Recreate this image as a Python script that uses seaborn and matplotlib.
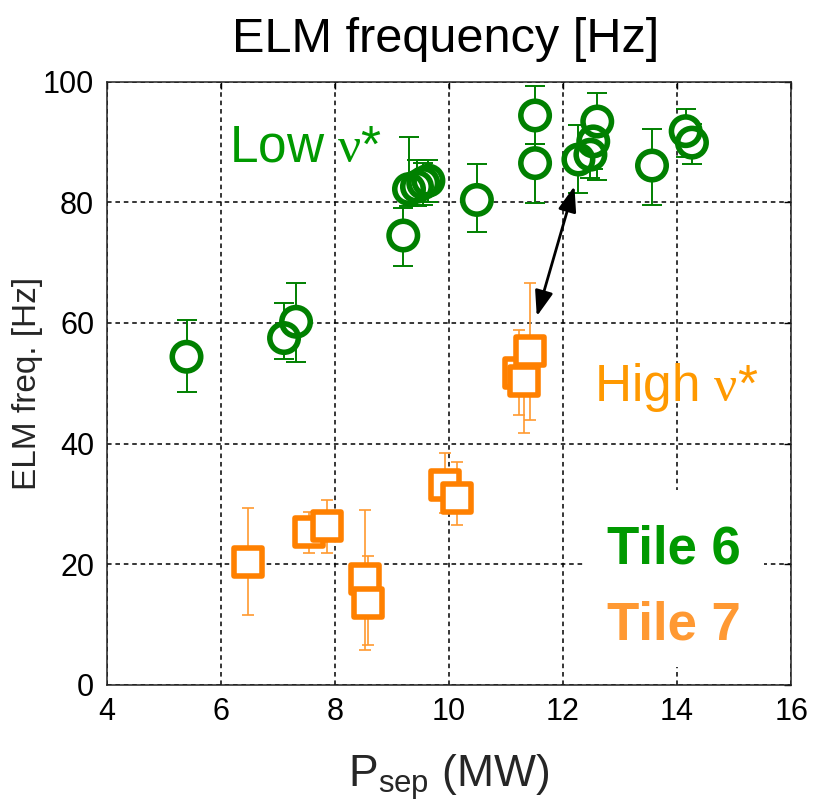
import matplotlib
matplotlib.use("Agg")
import matplotlib.pyplot as plt
import seaborn as sns
import pandas as pd
from matplotlib.patches import Rectangle

# ---- data ----
low_x = [5.40, 7.11, 7.32, 9.20, 9.30, 9.44, 9.55, 9.64, 10.49, 11.51, 11.51,
         12.27, 12.48, 12.53, 12.60, 13.56, 14.15, 14.26]
low_y = [54.4, 57.5, 60.2, 74.5, 82.2, 82.6, 83.2, 83.6, 80.4, 94.4, 86.5,
         87.1, 87.9, 90.1, 93.4, 86.1, 91.8, 89.9]
low_lo = [48.6, 54.0, 53.6, 69.5, 79.4, 79.4, 79.6, 80.0, 75.0, 89.6, 79.9,
          81.6, 84.0, 85.5, 83.7, 79.6, 87.5, 86.4]
low_hi = [60.5, 63.3, 66.7, 79.0, 90.9, 87.0, 86.5, 87.0, 86.4, 99.3, 89.6,
          92.9, 91.5, 94.0, 98.1, 92.2, 95.5, 93.0]

high_x = [6.48, 7.54, 7.86, 8.53, 8.59, 9.94, 10.14, 11.22, 11.31, 11.43]
high_y = [20.4, 25.4, 26.3, 17.5, 13.5, 33.2, 31.0, 51.7, 50.3, 55.3]
high_lo = [11.6, 21.8, 21.9, 5.8, 6.6, 28.5, 26.5, 44.8, 41.8, 43.9]
high_hi = [29.4, 28.7, 30.7, 29.0, 21.3, 38.5, 37.0, 58.8, 56.0, 66.7]

x_ticks = [4, 6, 8, 10, 12, 14, 16]
y_ticks = [0, 20, 40, 60, 80, 100]

title = "ELM frequency [Hz]"
xlabel = r"P$_{\mathrm{sep}}$ (MW)"
ylabel = "ELM freq. [Hz]"

GREEN = "#008000"
ORANGE = "#FF8000"
ORANGE_ERR = "#FF9A30"

df_low = pd.DataFrame({"x": low_x, "y": low_y, "lo": low_lo, "hi": low_hi})
df_high = pd.DataFrame({"x": high_x, "y": high_y, "lo": high_lo, "hi": high_hi})

sns.set_theme(style="white")
plt.rcParams["font.family"] = ["Liberation Sans", "DejaVu Sans"]
plt.rcParams["mathtext.fontset"] = "custom"
plt.rcParams["mathtext.rm"] = "Liberation Sans"
plt.rcParams["mathtext.it"] = "Liberation Serif"

fig = plt.figure(figsize=(8.14, 8.01), dpi=100)
ax = fig.add_axes([0.131, 0.145, 0.841, 0.753])

# error bars
for df, col, cap, lw in [(df_low, GREEN, 7, 1.4), (df_high, ORANGE_ERR, 4, 1.2)]:
    ax.errorbar(df["x"], df["y"],
                yerr=[df["y"] - df["lo"], df["hi"] - df["y"]],
                fmt="none", ecolor=col, elinewidth=lw, capsize=cap,
                capthick=lw, zorder=2)

S_CIRC = 420
S_SQ = 380
# white fills to hide bars inside markers
sns.scatterplot(data=df_low, x="x", y="y", ax=ax, marker="o", s=S_CIRC,
                color="white", edgecolor="none", linewidth=0, zorder=3,
                legend=False)
sns.scatterplot(data=df_high, x="x", y="y", ax=ax, marker="s", s=S_SQ,
                color="white", edgecolor="none", linewidth=0, zorder=3,
                legend=False)
# outlines
sns.scatterplot(data=df_low, x="x", y="y", ax=ax, marker="o", s=S_CIRC,
                facecolor="none", edgecolor=GREEN, linewidth=4.0, zorder=4,
                legend=False)
sns.scatterplot(data=df_high, x="x", y="y", ax=ax, marker="s", s=S_SQ,
                facecolor="white", edgecolor=ORANGE, linewidth=4.0, zorder=4,
                legend=False)

ax.set_xlim(4, 16)
ax.set_ylim(0, 100)
ax.set_xticks(x_ticks)
ax.set_yticks(y_ticks)
ax.grid(True, color="black", linestyle=(0, (3, 2.5)), linewidth=1.1, zorder=1)
ax.set_axisbelow(True)
for s in ax.spines.values():
    s.set_color("#222222")
    s.set_linewidth(1.1)
ax.tick_params(direction="in", length=5, width=1, top=True, right=True,
               labelsize=22, pad=9, colors="black")
ax.set_xlabel(xlabel, fontsize=32, labelpad=18)
ax.set_ylabel(ylabel, fontsize=24, labelpad=0)

# white box behind tile labels
ax.add_patch(Rectangle((12.36, 3.0), 3.16, 29.3, facecolor="white",
                       edgecolor="none", zorder=5))
ax.text(12.77, 20.2, "Tile 6", color="#009900", fontsize=38,
        fontweight="bold", va="baseline", ha="left", zorder=6)
ax.text(12.77, 7.5, "Tile 7", color="#FF9933", fontsize=38,
        fontweight="bold", va="baseline", ha="left", zorder=6)

ax.text(6.15, 86.7, r"Low $\nu$*", color="#009900", fontsize=37,
        va="baseline", ha="left", zorder=6)
ax.text(12.54, 47.0, r"High $\nu$*", color="#FF9900", fontsize=37,
        va="baseline", ha="left", zorder=6)

ax.annotate("", xy=(12.2, 82.7), xytext=(11.54, 61.1),
            arrowprops=dict(arrowstyle="<|-|>,head_length=0.7,head_width=0.25",
                            color="black", lw=2,
                            mutation_scale=22, shrinkA=0, shrinkB=0),
            zorder=7)

fig.text(0.548, 1 - 51.7 / 801, title, fontsize=35, ha="center",
         va="baseline", color="black")

fig.savefig("out.png", dpi=100)
